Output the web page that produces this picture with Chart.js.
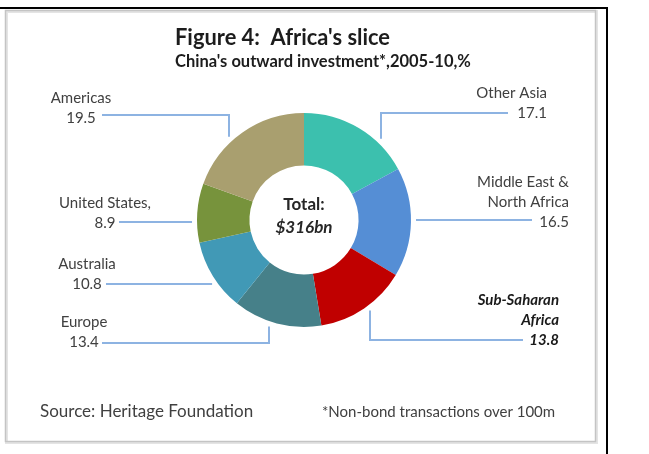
<!DOCTYPE html>
<html>
<head>
<meta charset="utf-8">
<script src="https://cdn.jsdelivr.net/npm/chart.js@4.4.1/dist/chart.umd.min.js"></script>
<style>
  html, body { margin: 0; padding: 0; background: #fff; }
  canvas { display: block; }
</style>
</head>
<body>
<canvas id="pie" width="649" height="454"></canvas>
<script>
// Data (share of China's outward investment, %)
const regions = ["Other Asia", "Middle East & North Africa", "Sub-Saharan Africa", "Europe", "Australia", "United States", "Americas"];
const shares = [17.1, 16.5, 13.8, 13.4, 10.8, 8.9, 19.5];
const labelLines = [["Other Asia"], ["Middle East &", "North Africa"], ["Sub-Saharan", "Africa"], ["Europe"], ["Australia"], ["United States,"], ["Americas"]];
const sliceColors = ["#3cc0ae", "#558ed5", "#c00000", "#468089", "#4199b6", "#77933c", "#a99f6f"];
const totalText = "$316bn";

// Where each callout sits (layout only)
// lx: text anchor x, ly: y of first line, lead: y of leader, from: x where leader starts,
// elbow: x of vertical part (null = straight horizontal to the ring)
const callouts = [
    { lx: 547, ly: 93, align: "right", lead: 113, from: 508, elbow: 381 },
    { lx: 569, ly: 182, align: "right", lead: 220, from: 532, elbow: null },
    { lx: 559, ly: 300, align: "right", lead: 340, from: 523, elbow: 370, strong: true },
    { lx: 84, ly: 322, align: "center", lead: 343, from: 102, elbow: 269 },
    { lx: 87, ly: 264, align: "center", lead: 284, from: 106, elbow: null },
    { lx: 105, ly: 203, align: "center", lead: 222, from: 119, elbow: null },
    { lx: 81, ly: 98, align: "center", lead: 115, from: 102, elbow: 229 }
];

const FONT = "Lato, 'Open Sans', sans-serif";

const frame = {
    id: "frame",
    beforeDraw(chart) {
        const ctx = chart.ctx;
        ctx.save();
        ctx.fillStyle = "#fff";
        ctx.fillRect(0, 0, chart.width, chart.height);
        // grey panel
        ctx.strokeStyle = "#e4e4e4";
        ctx.lineWidth = 3;
        ctx.strokeRect(6.5, 11.5, 590, 431);
        ctx.strokeStyle = "#c4c4c4";
        ctx.lineWidth = 1.5;
        ctx.strokeRect(5.5, 10.5, 590, 431);
        // black outer rule
        ctx.fillStyle = "#000";
        ctx.fillRect(0, 7, 608, 2);
        ctx.fillRect(606, 7, 2, chart.height - 7);
        ctx.restore();
    },
    afterDraw(chart) {
        const ctx = chart.ctx;
        const arc = chart.getDatasetMeta(0).data[0];
        const cx = arc.x, cy = arc.y, r = arc.outerRadius + 5;
        ctx.save();

        // titles
        ctx.textBaseline = "middle";
        ctx.textAlign = "left";
        ctx.fillStyle = "#1c1c1c";
        ctx.font = "bold 22px " + FONT;
        ctx.fillText("Figure 4:  Africa's slice", 175, 38, 215);
        ctx.font = "bold 16.5px " + FONT;
        ctx.fillText("China's outward investment*,2005-10,%", 175, 62, 300);

        // footer
        ctx.fillStyle = "#404040";
        ctx.font = "17px " + FONT;
        ctx.fillText("Source: Heritage Foundation", 40, 412, 216);
        ctx.font = "15px " + FONT;
        ctx.fillText("*Non-bond transactions over 100m", 322, 412, 243);

        // centre
        ctx.textAlign = "center";
        ctx.fillStyle = "#262626";
        ctx.font = "bold 17px " + FONT;
        ctx.fillText("Total:", cx, cy - 15);
        ctx.font = "italic bold 17px " + FONT;
        ctx.fillText(totalText, cx, cy + 8);

        // callouts
        callouts.forEach((c, i) => {
            const lines = labelLines[i].concat([shares[i].toFixed(1)]);
            ctx.textAlign = c.align;
            ctx.fillStyle = c.strong ? "#1a1a1a" : "#404040";
            ctx.font = (c.strong ? "italic bold 15px " : "15px ") + FONT;
            lines.forEach((t, k) => ctx.fillText(t, c.lx, c.ly + k * 20));

            ctx.strokeStyle = "#8db3e2";
            ctx.lineWidth = 2;
            ctx.beginPath();
            ctx.moveTo(c.from, c.lead);
            if (c.elbow === null) {
                const dy = c.lead - cy;
                const dx = Math.sqrt(r * r - dy * dy);
                ctx.lineTo(c.from > cx ? cx + dx : cx - dx, c.lead);
            } else {
                const dx = c.elbow - cx;
                const dy = Math.sqrt(r * r - dx * dx);
                ctx.lineTo(c.elbow, c.lead);
                ctx.lineTo(c.elbow, c.lead < cy ? cy - dy : cy + dy);
            }
            ctx.stroke();
        });
        ctx.restore();
    }
};

new Chart(document.getElementById("pie"), {
    type: "doughnut",
    data: {
        labels: regions,
        datasets: [{
            data: shares,
            backgroundColor: sliceColors,
            borderWidth: 0
        }]
    },
    options: {
        responsive: false,
        animation: false,
        cutout: "51%",
        layout: { padding: { left: 197, right: 238, top: 113, bottom: 127 } },
        plugins: {
            legend: { display: false },
            tooltip: { enabled: false }
        },
        events: []
    },
    plugins: [frame]
});
</script>
</body>
</html>
